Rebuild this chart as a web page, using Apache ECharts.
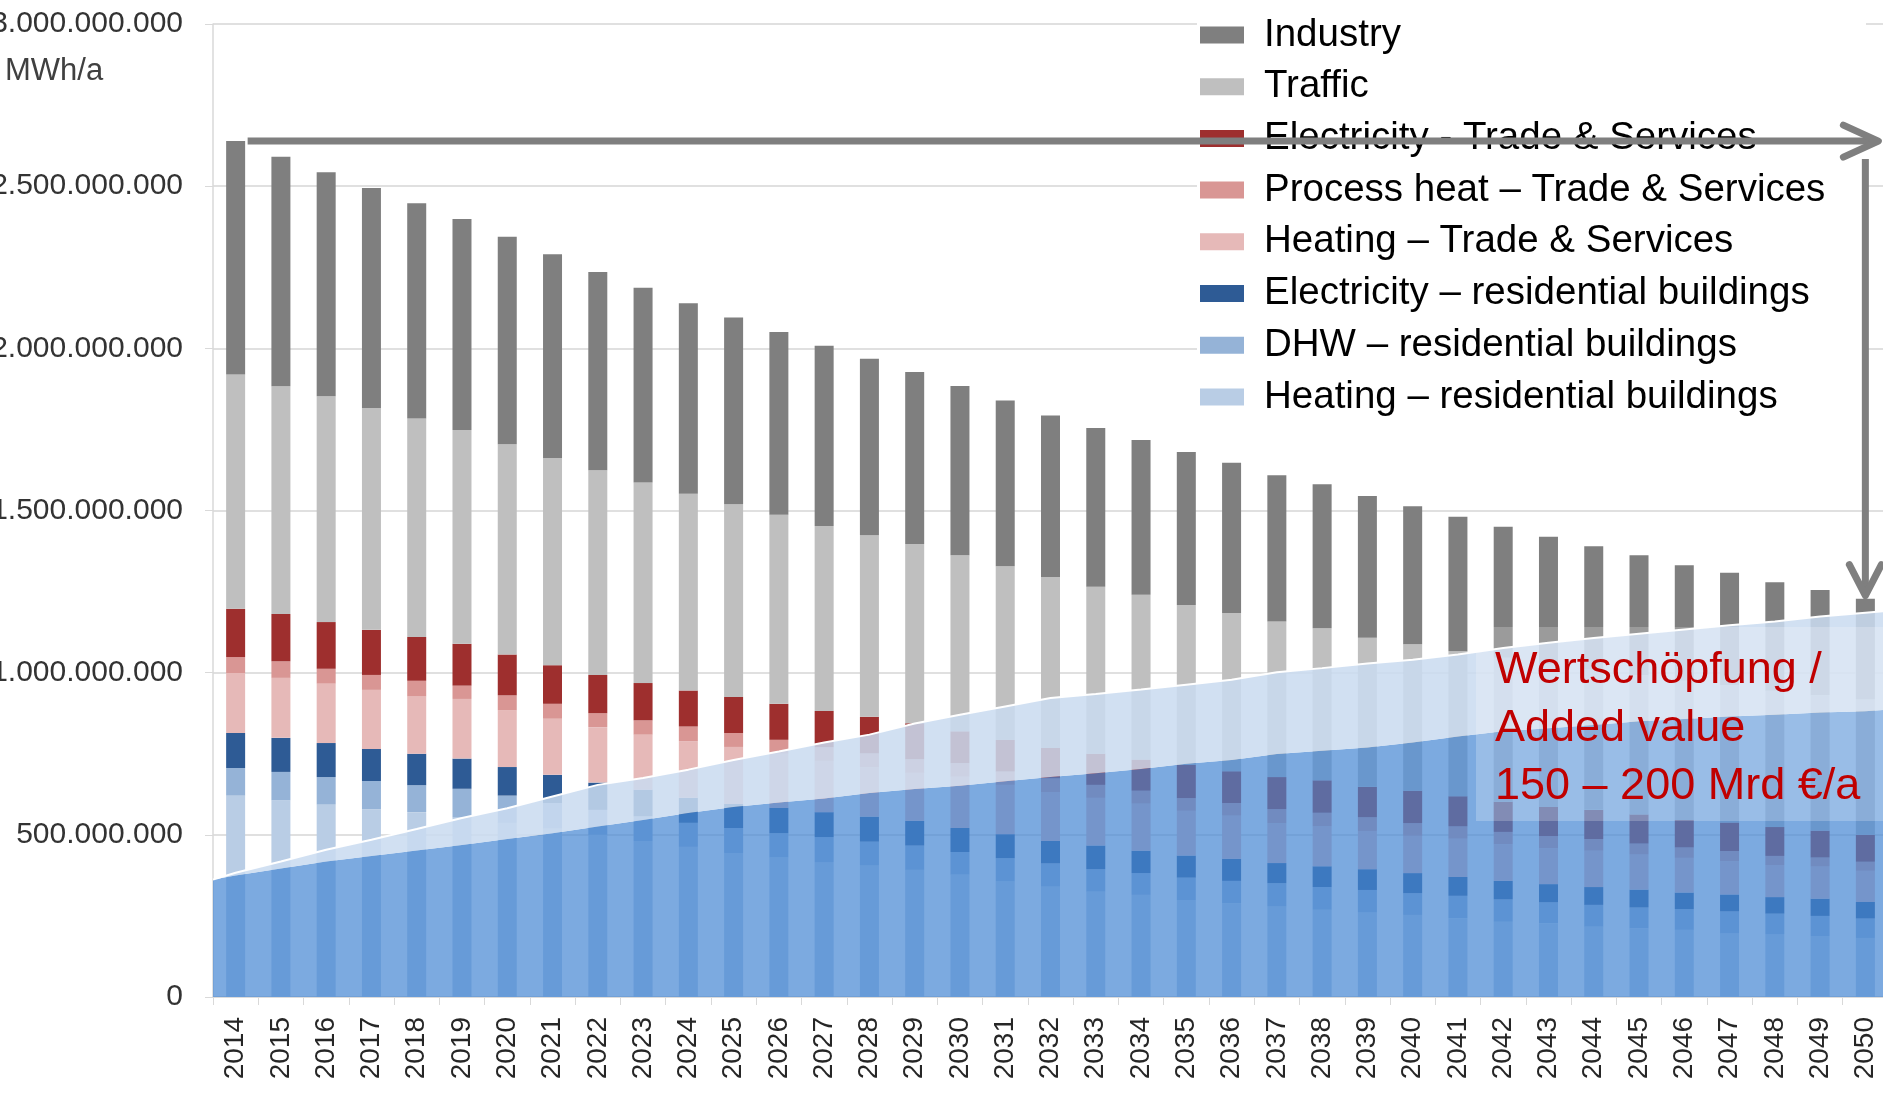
<!DOCTYPE html>
<html>
<head>
<meta charset="utf-8">
<script src="https://cdn.jsdelivr.net/npm/echarts@6/dist/echarts.min.js"></script>
<style>
  html, body { margin: 0; padding: 0; background: #fff; }
  #chart { width: 1883px; height: 1096px; }
</style>
</head>
<body>
<div id="chart"></div>
<script>
// final energy demand, million MWh/a
const years = ['2014','2015','2016','2017','2018','2019','2020','2021','2022','2023','2024','2025','2026',
  '2027','2028','2029','2030','2031','2032','2033','2034','2035','2036','2037','2038','2039','2040',
  '2041','2042','2043','2044','2045','2046','2047','2048','2049','2050'];

const industry = [720,708,691,678,663,651,640,628,611,601,587,576,563,556,544,530,522,511,498,489,477,471,463,451,444,437,425,415,404,393,381,370,356,346,335,325,311];
const traffic = [722,702,696,684,674,659,648,639,631,618,607,594,583,570,560,553,543,535,527,515,508,493,488,480,469,460,452,447,444,440,432,429,429,424,420,417,417];
const elecTrade = [149,146,144,139,135,129,126,119,118,115,111,111,111,112,113,111,98,98,94,96,96,103,98,99,100,94,100,93,93,90,90,90,85,88,89,83,83];
const procHeat = [49,51,46,46,48,41,46,46,43,44,46,43,43,42,42,42,42,41,42,40,40,39,39,43,42,42,39,38,38,37,36,34,32,32,28,28,28];
const heatTrade = [185,185,183,182,177,184,175,173,171,170,174,176,167,158,153,148,158,152,151,147,145,138,133,123,123,118,115,118,113,111,112,108,107,102,99,99,96];
const elecRes = [108,105,105,99,97,93,88,87,84,82,77,74,78,77,77,76,74,74,69,73,69,68,68,62,64,64,62,58,57,56,55,55,51,52,51,53,51];
const dhw = [85,88,85,87,83,89,84,79,77,76,74,77,75,77,74,75,70,72,72,69,67,69,69,72,70,70,67,69,69,65,67,64,64,67,63,62,60];
const heatRes = [621,606,593,579,570,553,537,519,500,481,463,444,430,416,405,392,377,356,340,325,315,299,289,279,269,260,253,243,232,227,217,212,207,197,194,188,182];

// added value band: left edge, one value per year, right edge
const addedUpper = [362,383,418,454,485,518,552,582,618,654,675,701,731,757,785,809,843,870,896,922,934,948,963,978,1001,1014,1028,1040,1056,1076,1092,1107,1120,1133,1146,1158,1173,1185,1191];
const addedLower = [362,375,396,418,435,452,469,487,505,526,546,567,586,600,612,629,641,651,665,678,690,703,719,731,749,759,769,785,803,819,829,839,850,857,865,870,877,881,886];

const FONT = 'Liberation Sans, Arial, sans-serif';

const stackDefs = [
  ['Heating – residential buildings', heatRes, '#b9cde5'],
  ['DHW – residential buildings', dhw, '#95b3d7'],
  ['Electricity – residential buildings', elecRes, '#2e5b95'],
  ['Heating – Trade & Services', heatTrade, '#e6b9b8'],
  ['Process heat – Trade & Services', procHeat, '#d99694'],
  ['Electricity - Trade & Services', elecTrade, '#9e2f2e'],
  ['Traffic', traffic, '#bfbfbf'],
  ['Industry', industry, '#7f7f7f']
];

// band positions in category units (0 = left axis, n = right end)
const overlayX = [0].concat(years.map((y, i) => i + 0.5)).concat([years.length]);

const fmt = v => v === 0 ? '0' : String(Math.round(v * 1e6)).replace(/\B(?=(\d{3})+(?!\d))/g, '.');

let series = stackDefs.map(d => ({
  name: d[0],
  type: 'bar',
  stack: 'total',
  barWidth: 19,
  itemStyle: { color: d[2] },
  data: d[1]
}));

series.push({
  type: 'line',
  xAxisIndex: 1,
  stack: 'wert',
  symbol: 'none',
  z: 3,
  lineStyle: { width: 0 },
  areaStyle: { color: 'rgba(68,134,211,0.7)', opacity: 1 },
  data: addedLower.map((v, i) => [overlayX[i], v])
}, {
  type: 'line',
  xAxisIndex: 1,
  stack: 'wert',
  symbol: 'none',
  z: 3,
  lineStyle: { color: '#ffffff', width: 2 },
  areaStyle: { color: 'rgba(202,219,240,0.86)', opacity: 1 },
  data: addedUpper.map((v, i) => [overlayX[i], v - addedLower[i]])
});

const option = {
  animation: false,
  grid: { left: 213, top: 24, width: 1675, height: 973, outerBoundsMode: 'none', containLabel: false },
  legend: {
    orient: 'vertical',
    left: 1200,
    top: 15,
    padding: 0,
    itemGap: 11.7,
    itemWidth: 44,
    itemHeight: 17,
    icon: 'rect',
    selectedMode: false,
    z: 5,
    data: stackDefs.map(d => d[0]).reverse(),
    textStyle: { fontFamily: FONT, fontSize: 38.5, lineHeight: 40, color: '#000', padding: [0, 0, 0, 15] }
  },
  xAxis: [{
    type: 'category',
    data: years,
    axisLine: { lineStyle: { color: '#d9d9d9', width: 1.5 } },
    axisTick: { show: true, length: 8, lineStyle: { color: '#d9d9d9' } },
    axisLabel: { interval: 0, rotate: 90, margin: 20, fontSize: 28, fontFamily: FONT, color: '#262626' }
  }, {
    // hidden linear axis so the band can reach the plot edges; time type keeps stacking on y
    type: 'time',
    min: 0,
    max: years.length,
    show: false
  }],
  yAxis: {
    type: 'value',
    min: 0,
    max: 3000,
    interval: 500,
    axisLine: { show: true, lineStyle: { color: '#d9d9d9', width: 1.5 } },
    axisTick: { show: true, length: 8, lineStyle: { color: '#d9d9d9' } },
    splitLine: { lineStyle: { color: '#d6d6d6', width: 1.5 } },
    axisLabel: { margin: 30, fontSize: 30, fontFamily: FONT, color: '#333', formatter: fmt }
  },
  series: series
};

const chart = echarts.init(document.getElementById('chart'));
chart.setOption(option);

// arrows anchored to the 2014 and 2050 totals
const total = years.map((y, i) => stackDefs.reduce((s, d) => s + d[1][i], 0));
const yStart = chart.convertToPixel({ yAxisIndex: 0 }, total[0]);
const yEnd = chart.convertToPixel({ yAxisIndex: 0 }, total[years.length - 1]);
const xStart = chart.convertToPixel({ xAxisIndex: 0 }, years[0]) + 12;
const xEnd = chart.convertToPixel({ xAxisIndex: 0 }, years[years.length - 1]);
const arrowStyle = { stroke: '#7f7f7f', lineWidth: 7, fill: null, lineCap: 'round', lineJoin: 'round' };

chart.setOption({
  graphic: [
    { type: 'rect', z: 3, shape: { x: 1197, y: 0, width: 669, height: 430 }, style: { fill: '#fff' } },
    { type: 'text', z: 6, left: 5, top: 56, style: { text: 'MWh/a', font: '31px ' + FONT, fill: '#404040' } },
    { type: 'polyline', z: 60, shape: { points: [[xStart, yStart], [xEnd + 12, yStart]] }, style: Object.assign({}, arrowStyle, { lineCap: 'butt' }) },
    { type: 'polyline', z: 60, shape: { points: [[xEnd - 22, yStart - 16], [xEnd + 13, yStart], [xEnd - 22, yStart + 16]] }, style: arrowStyle },
    { type: 'polyline', z: 60, shape: { points: [[xEnd, yStart + 18], [xEnd, yEnd - 6]] }, style: Object.assign({}, arrowStyle, { lineCap: 'butt' }) },
    { type: 'polyline', z: 60, shape: { points: [[xEnd - 16, yEnd - 34], [xEnd, yEnd - 3], [xEnd + 16, yEnd - 34]] }, style: arrowStyle },
    { type: 'rect', z: 50, shape: { x: 1476, y: 627, width: 420, height: 194 }, style: { fill: 'rgba(255,255,255,0.22)' } },
    { type: 'text', z: 51, x: 1495, y: 642, style: {
      text: 'Wertschöpfung /\nAdded value\n150 – 200 Mrd €/a',
      font: '45px ' + FONT, fill: '#c00000', lineHeight: 58, verticalAlign: 'top'
    } }
  ]
});
</script>
</body>
</html>
